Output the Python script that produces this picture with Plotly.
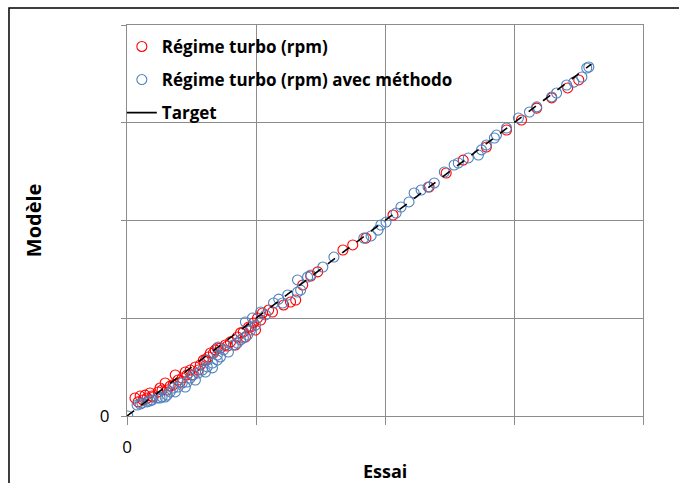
import plotly.graph_objects as go

# Values in krpm (axis labels hidden in the original, except 0)
red_x = [3.1, 5.1, 6.2, 7.0, 8.9, 10.1, 12.1, 12.8, 14.8, 15.6, 17.9, 18.7, 20.6, 21.4, 22.6, 23.3,
         24.5, 26.5, 28.4, 29.6, 30.4, 31.5, 32.3, 33.5, 35.0, 36.2, 38.1, 40.1, 42.0, 42.8, 45.1,
         45.9, 47.1, 49.0, 49.8, 51.8, 52.5, 56.4, 60.7, 63.4, 65.4, 68.1, 71.2, 73.9, 83.7, 87.5,
         92.6, 103.1, 117.1, 123.7, 130.3, 139.3, 147.1, 152.9, 158.8, 164.6, 170.8, 175.1,
         4.3, 7.8, 9.7, 13.6, 16.7, 19.8, 25.3, 27.6, 34.2, 38.9, 44.0, 47.9, 50.6, 54.9]
red_y = [9.2, 10.2, 8.2, 10.7, 11.8, 9.7, 12.3, 14.3, 16.9, 13.3, 15.9, 21.0, 17.4, 19.4, 22.5, 21.0,
         23.5, 25.1, 26.1, 28.6, 28.6, 30.2, 32.2, 32.2, 34.8, 34.8, 36.3, 37.9, 36.3, 40.4, 43.0,
         40.4, 45.5, 47.6, 44.0, 49.1, 52.7, 53.2, 56.8, 58.3, 59.3, 67.0, 71.6, 73.7, 84.9, 87.5,
         91.0, 102.8, 117.1, 124.3, 130.9, 137.6, 146.3, 151.4, 157.5, 162.7, 167.8, 171.9,
         7.2, 9.2, 10.2, 13.3, 15.3, 18.4, 21.0, 23.5, 33.8, 35.8, 42.5, 45.5, 50.1, 54.2]

blue_x = [0.3, 3.9, 5.8, 7.8, 9.7, 11.7, 13.6, 15.6, 16.7, 17.9, 19.8, 21.4, 23.3, 24.5, 25.7, 27.6,
          29.2, 31.1, 31.1, 33.1, 35.0, 35.0, 35.4, 37.4, 41.2, 44.0, 45.9, 46.7, 47.9, 48.6, 51.8,
          56.8, 58.8, 62.3, 66.1, 66.1, 70.0, 71.2, 75.9, 80.2, 91.8, 94.6, 97.3, 98.4, 100.4, 104.3,
          106.2, 109.3, 111.3, 114.0, 116.7, 119.1, 123.0, 126.8, 128.4, 132.3, 136.2, 137.4, 139.3,
          142.4, 143.2, 147.1, 151.7, 156.0, 158.8, 164.6, 166.5, 170.4, 173.2, 176.3, 178.2, 179.0,
          5.1, 8.9, 12.8, 14.8, 18.7, 22.6, 26.5, 30.4, 33.1, 36.2, 39.3, 42.8, 45.1, 49.8, 53.7,
          60.3, 67.3]
blue_y = [0.0, 5.6, 6.6, 7.2, 8.2, 9.2, 9.7, 10.7, 12.3, 14.3, 14.8, 16.9, 17.4, 19.4, 21.0, 22.0,
          23.5, 25.1, 28.6, 27.1, 28.6, 31.2, 35.3, 33.8, 36.3, 38.9, 48.1, 41.4, 44.0, 50.1, 53.2,
          57.8, 59.8, 61.9, 63.4, 69.6, 71.1, 72.1, 76.2, 81.3, 91.0, 92.1, 95.1, 97.7, 99.2, 103.8,
          106.9, 109.5, 114.1, 115.6, 117.1, 119.2, 124.8, 128.4, 129.4, 132.0, 133.5, 136.1, 138.6,
          142.2, 143.7, 147.3, 152.4, 155.5, 158.1, 163.2, 165.2, 169.3, 170.8, 173.4, 178.0, 178.5,
          6.1, 7.7, 9.2, 9.7, 12.3, 14.8, 18.4, 22.5, 24.6, 30.2, 32.7, 37.3, 39.9, 46.5, 51.7,
          57.8, 64.4]

target_x = [0, 180]
target_y = [0, 180]

axis_ticks = [0, 50, 100, 150, 200]
axis_ticktext = ["0", "", "", "", ""]

RED = "#FF0000"
BLUE = "#4F81BD"
GRID = "#8C8C8C"
FONT = "Open Sans"

fig = go.Figure()
fig.add_trace(go.Scatter(x=red_x, y=red_y, mode="markers", name="Régime turbo (rpm)",
                         legendgroup="a",
                         marker=dict(symbol="circle-open", size=10, color=RED, line=dict(width=1.1))))
fig.add_trace(go.Scatter(x=blue_x, y=blue_y, mode="markers", name="Régime turbo (rpm) avec méthodo",
                         legendgroup="b",
                         marker=dict(symbol="circle-open", size=10, color=BLUE, line=dict(width=1.1))))
fig.add_trace(go.Scatter(x=target_x, y=target_y, mode="lines", name="Target", showlegend=False,
                         line=dict(color="black", width=1.6, dash="dash")))
fig.add_trace(go.Scatter(x=[None], y=[None], mode="lines", name="Target", legendgroup="c",
                         line=dict(color="black", width=1.6)))

axis_common = dict(range=[0, 200], tickvals=axis_ticks, ticktext=axis_ticktext,
                   showgrid=True, gridcolor=GRID, gridwidth=1,
                   showline=True, linecolor=GRID, linewidth=1, mirror=True,
                   ticks="outside", tickcolor=GRID, zeroline=False,
                   tickfont=dict(family=FONT, size=17, color="black"))

fig.update_xaxes(**axis_common, ticklen=8, ticklabelstandoff=8)
fig.update_yaxes(**axis_common, ticklen=5, ticklabelstandoff=8)

fig.update_layout(
    width=679, height=483,
    margin=dict(l=127, r=36, t=25, b=67),
    paper_bgcolor="white", plot_bgcolor="white",
    showlegend=True,
    legend=dict(x=-0.01, y=0.99, xanchor="left", yanchor="top",
                bgcolor="rgba(0,0,0,0)", borderwidth=0, tracegroupgap=8,
                font=dict(family=FONT, size=17, color="black", weight="bold")),
    annotations=[
        dict(text="Essai", x=0.5, y=-0.141, xref="paper", yref="paper", showarrow=False,
             xanchor="center", yanchor="middle",
             font=dict(family=FONT, size=18, color="black", weight="bold")),
        dict(text="Modèle", x=-0.182, y=0.501, xref="paper", yref="paper", showarrow=False,
             xanchor="center", yanchor="middle", textangle=-90,
             font=dict(family=FONT, size=20, color="black", weight="bold")),
    ],
    shapes=[
        dict(type="rect", xref="paper", yref="paper", x0=-0.2287, y0=-0.4, x1=1.2, y1=1.0435,
             line=dict(color="black", width=1.5), fillcolor="rgba(0,0,0,0)", layer="below"),
    ],
)

fig.write_html("out.html", config={"displayModeBar": False},
               post_script="document.body.style.margin='0';")
